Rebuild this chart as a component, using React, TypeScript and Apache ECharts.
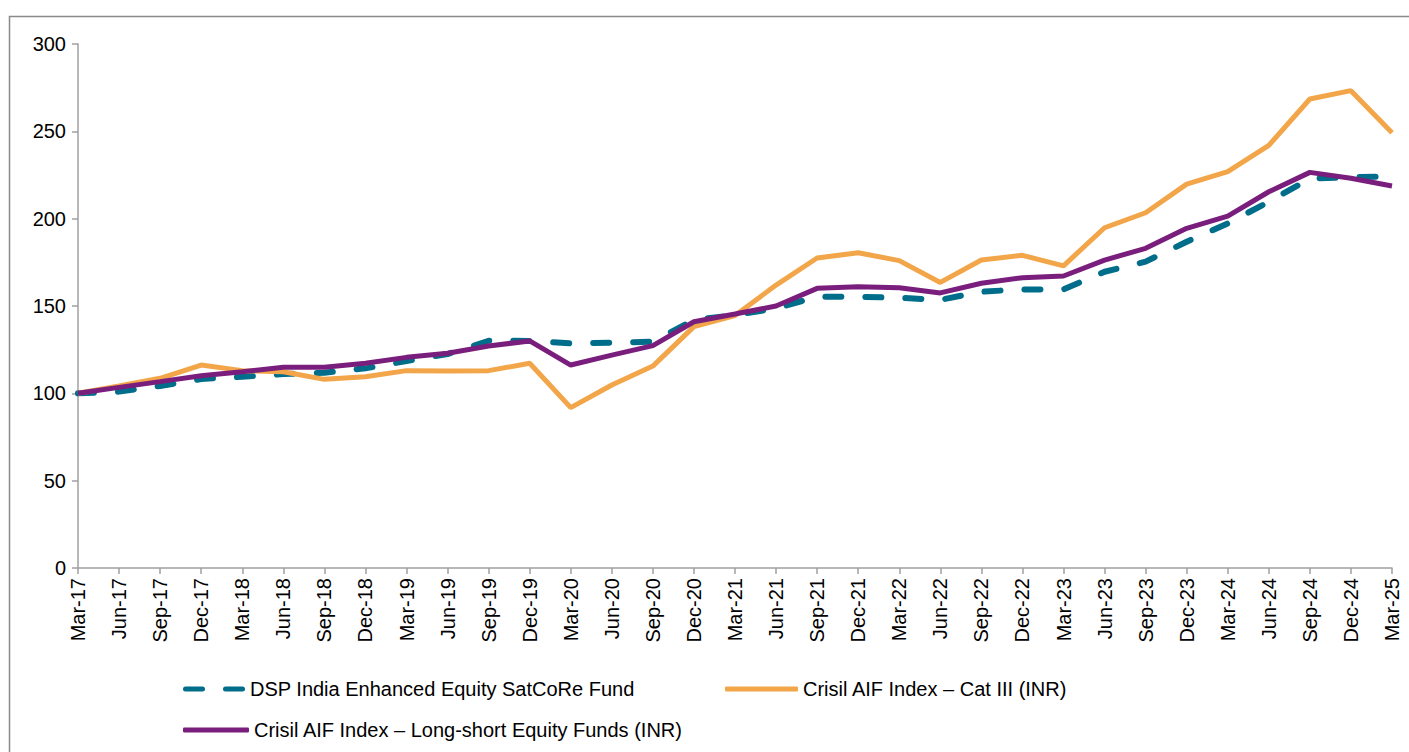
import React, { useEffect, useRef } from "react";
import * as echarts from "echarts";

const categories = [
  "Mar-17", "Jun-17", "Sep-17", "Dec-17", "Mar-18", "Jun-18", "Sep-18", "Dec-18",
  "Mar-19", "Jun-19", "Sep-19", "Dec-19", "Mar-20", "Jun-20", "Sep-20", "Dec-20",
  "Mar-21", "Jun-21", "Sep-21", "Dec-21", "Mar-22", "Jun-22", "Sep-22", "Dec-22",
  "Mar-23", "Jun-23", "Sep-23", "Dec-23", "Mar-24", "Jun-24", "Sep-24", "Dec-24", "Mar-25",
];

const dspFund = [
  100, 101, 104.2, 108.2, 109.5, 111, 111.8, 114.3, 118.5, 122.5, 130.1, 130,
  128.6, 129, 129.6, 142, 144.8, 148.7, 155.3, 155.3, 154.7, 153.5, 158.2, 159.5,
  159.5, 169.6, 175.4, 186.8, 197.3, 209.7, 223, 223.7, 224.2,
];

const catIII = [
  100, 104.2, 108.6, 116.2, 113, 112.4, 108, 109.5, 113, 112.8, 113, 117.2,
  91.8, 104.8, 115.6, 138.2, 144.5, 162, 177.5, 180.5, 176, 163.5, 176.3, 179,
  173, 194.8, 203.4, 219.8, 226.9, 242, 268.5, 273.3, 249.2,
];

const longShort = [
  100, 103.4, 106.7, 110.1, 112.4, 114.9, 114.9, 117.2, 120.6, 122.9, 127.1, 130,
  116.2, 121.9, 127.3, 141, 145.4, 150, 160.1, 161, 160.5, 157.5, 163, 166.2,
  167.2, 176.3, 183, 194.5, 201.5, 215.4, 226.5, 223.1, 218.7,
];

const seriesNames = [
  "DSP India Enhanced Equity SatCoRe Fund",
  "Crisil AIF Index – Cat III (INR)",
  "Crisil AIF Index – Long-short Equity Funds (INR)",
];

const colors = ["#006E8A", "#F2A649", "#7A1E7D"];

const FONT = 'Arial, "Liberation Sans", sans-serif';

const dashIcon =
  "path://M2.5,0H19.5A2.5,2.5 0 0 1 19.5,5H2.5A2.5,2.5 0 0 1 2.5,0ZM42.5,0H59.5A2.5,2.5 0 0 1 59.5,5H42.5A2.5,2.5 0 0 1 42.5,0Z";

export default function App() {
  const ref = useRef<HTMLDivElement>(null);

  useEffect(() => {
    if (!ref.current) return;
    const chart = echarts.init(ref.current, undefined, { renderer: "svg" });
    const legendText = { fontFamily: FONT, fontSize: 20, color: "#000" };
    chart.setOption({
      animation: false,
      backgroundColor: "#fff",
      textStyle: { fontFamily: FONT },
      grid: { left: 78, right: 17, top: 44, bottom: 184, containLabel: false },
      graphic: [
        {
          type: "rect",
          left: 7,
          top: 14,
          shape: { width: 1430, height: 800 },
          style: { fill: "none", stroke: "#8A8A8A", lineWidth: 1.5 },
          silent: true,
        },
      ],
      legend: [
        {
          data: [{ name: seriesNames[0], icon: dashIcon }],
          left: 178,
          top: 674,
          itemWidth: 62,
          itemHeight: 5,
          symbolKeepAspect: false,
          textStyle: legendText,
          selectedMode: false,
        },
        {
          data: [{ name: seriesNames[1], icon: "roundRect" }],
          left: 720,
          top: 674,
          itemWidth: 73,
          itemHeight: 5,
          textStyle: legendText,
          selectedMode: false,
        },
        {
          data: [{ name: seriesNames[2], icon: "roundRect" }],
          left: 178,
          top: 715,
          itemWidth: 66,
          itemHeight: 5,
          textStyle: legendText,
          selectedMode: false,
        },
      ],
      xAxis: {
        type: "category",
        data: categories,
        boundaryGap: false,
        axisLine: { lineStyle: { color: "#A0A0A0", width: 1.5 } },
        axisTick: { show: true, length: 6, alignWithLabel: true, lineStyle: { color: "#A0A0A0", width: 1.5 } },
        axisLabel: {
          rotate: 90,
          interval: 0,
          margin: 10,
          fontSize: 20,
          color: "#000",
          fontFamily: FONT,
        },
        splitLine: { show: false },
      },
      yAxis: {
        type: "value",
        min: 0,
        max: 300,
        interval: 50,
        axisLine: { show: true, lineStyle: { color: "#A0A0A0", width: 1.5 } },
        axisTick: { show: true, length: 6, lineStyle: { color: "#A0A0A0", width: 1.5 } },
        axisLabel: { margin: 12, fontSize: 20, color: "#000", fontFamily: FONT },
        splitLine: { show: false },
      },
      series: [
        {
          name: seriesNames[0],
          type: "line",
          data: dspFund,
          symbol: "none",
          color: colors[0],
          lineStyle: { color: colors[0], width: 6, type: [16, 24], cap: "round" },
          z: 2,
        },
        {
          name: seriesNames[1],
          type: "line",
          data: catIII,
          symbol: "none",
          color: colors[1],
          lineStyle: { color: colors[1], width: 5 },
          z: 3,
        },
        {
          name: seriesNames[2],
          type: "line",
          data: longShort,
          symbol: "none",
          color: colors[2],
          lineStyle: { color: colors[2], width: 5 },
          z: 4,
        },
      ],
    });
    return () => chart.dispose();
  }, []);

  return (
    <div
      ref={ref}
      style={{ position: "absolute", left: 0, top: 0, width: 1409, height: 752 }}
    />
  );
}
